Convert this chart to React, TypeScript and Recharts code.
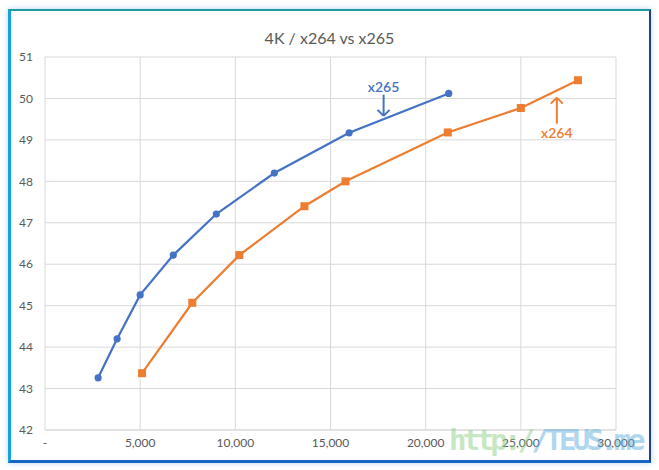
import { ScatterChart, Scatter, XAxis, YAxis, CartesianGrid, ReferenceLine, ReferenceDot } from "recharts"

const x265Bitrate = [2790, 3790, 5000, 6740, 9000, 12050, 15980, 21210]
const x265Psnr = [43.26, 44.2, 45.26, 46.22, 47.21, 48.2, 49.17, 50.12]
const x264Bitrate = [5100, 7740, 10210, 13630, 15790, 21160, 25000, 28000]
const x264Psnr = [43.37, 45.07, 46.22, 47.4, 48.0, 49.18, 49.77, 50.44]
const xTicks = [0, 5000, 10000, 15000, 20000, 25000, 30000]
const yTicks = [42, 43, 44, 45, 46, 47, 48, 49, 50, 51]

const BLUE = "#4472C4"
const ORANGE = "#ED7D31"
const FONT = "Lato, 'Open Sans', sans-serif"

const x265 = x265Bitrate.map((b, i) => ({ x: b, y: x265Psnr[i] }))
const x264 = x264Bitrate.map((b, i) => ({ x: b, y: x264Psnr[i] }))

const circle = (p: any) => <circle cx={p.cx} cy={p.cy} r={3.6} fill={BLUE} />
const square = (p: any) => <rect x={p.cx - 4} y={p.cy - 4} width={8} height={8} fill={ORANGE} />

const fmt = (v: number) => (v === 0 ? "-" : v.toLocaleString("en-US"))

export default function App() {
  return (
    <div style={{ position: "absolute", left: 0, top: 0, width: 659, height: 470, background: "#fff", fontFamily: FONT }}>
      <div
        style={{
          position: "absolute", left: 8, top: 9, width: 638, height: 449,
          borderTop: "2px solid #1e9aa6", borderLeft: "3px solid #12a2dc",
          borderRight: "2px solid #1f3d8c", borderBottom: "3px solid #1466c0",
          boxShadow: "0 0 6px rgba(60,140,220,0.35)",
        }}
      />
      <div style={{ position: "absolute", left: 0, top: 28, width: 659, textAlign: "center", fontSize: 16, color: "#595959" }}>
        4K / x264 vs x265
      </div>
      <div style={{ position: "absolute", left: 0, top: 0 }}>
        <ScatterChart width={659} height={470} margin={{ top: 57, right: 43, bottom: 10, left: 0 }}>
          <CartesianGrid stroke="#d9d9d9" strokeWidth={1} />
          <XAxis
            type="number" dataKey="x" domain={[0, 30000]} ticks={xTicks} tickFormatter={fmt}
            axisLine={{ stroke: "#d9d9d9" }} tickLine={false} height={30} tickMargin={2}
            tick={{ fill: "#595959", fontSize: 12, fontFamily: FONT }} interval={0}
          />
          <YAxis
            type="number" dataKey="y" domain={[42, 51]} ticks={yTicks} axisLine={false} tickLine={false}
            width={45} tickMargin={6} tick={{ fill: "#595959", fontSize: 12, fontFamily: FONT }} interval={0}
          />
          <Scatter data={x265} line={{ stroke: BLUE, strokeWidth: 2.2 }} lineType="joint" shape={circle} isAnimationActive={false} />
          <Scatter data={x264} line={{ stroke: ORANGE, strokeWidth: 2.2 }} lineType="joint" shape={square} isAnimationActive={false} />

          <ReferenceLine segment={[{ x: 17790, y: 50.09 }, { x: 17790, y: 49.58 }]} stroke={BLUE} strokeWidth={2} />
          <ReferenceLine segment={[{ x: 17474, y: 49.725 }, { x: 17790, y: 49.58 }]} stroke={BLUE} strokeWidth={2} />
          <ReferenceLine segment={[{ x: 18106, y: 49.725 }, { x: 17790, y: 49.58 }]} stroke={BLUE} strokeWidth={2} />
          <ReferenceDot x={17790} y={50.28} r={1} fill="none" stroke="none"
            label={{ value: "x265", fill: BLUE, fontSize: 14, fontWeight: 600, fontFamily: FONT }} />

          <ReferenceLine segment={[{ x: 26890, y: 50.02 }, { x: 26890, y: 49.39 }]} stroke={ORANGE} strokeWidth={2} />
          <ReferenceLine segment={[{ x: 26574, y: 49.875 }, { x: 26890, y: 50.02 }]} stroke={ORANGE} strokeWidth={2} />
          <ReferenceLine segment={[{ x: 27206, y: 49.875 }, { x: 26890, y: 50.02 }]} stroke={ORANGE} strokeWidth={2} />
          <ReferenceDot x={26890} y={49.17} r={1} fill="none" stroke="none"
            label={{ value: "x264", fill: ORANGE, fontSize: 14, fontWeight: 600, fontFamily: FONT }} />
        </ScatterChart>
      </div>
      <div
        style={{
          position: "absolute", left: 449, top: 423, fontSize: 29, fontWeight: 700,
          fontFamily: "'DejaVu Sans Mono', monospace", letterSpacing: -3.7, opacity: 0.5, whiteSpace: "nowrap",
        }}
      >
        <span style={{ color: "#8fd08a" }}>http:/</span>
        <span style={{ color: "#5fb0e0" }}>/TEUS.me</span>
      </div>
    </div>
  )
}
